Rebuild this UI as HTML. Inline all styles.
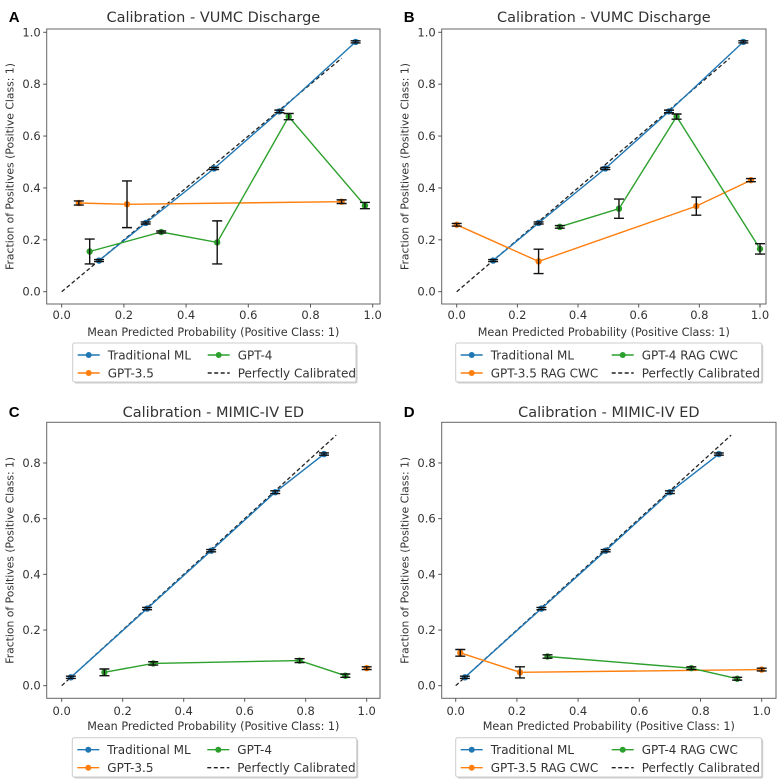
<!DOCTYPE html>
<html><head><meta charset="utf-8"><style>
body{margin:0;background:#fff;}
svg{display:block;font-family:"DejaVu Sans","Liberation Sans",sans-serif;}
</style></head><body>
<svg id="fig" width="780" height="782" viewBox="0 0 780 782" xmlns="http://www.w3.org/2000/svg"></svg>
<script>
// ---- data ----
const tmlA_x = [0.12, 0.27, 0.49, 0.70, 0.945];
const tmlA_y = [0.12, 0.265, 0.475, 0.695, 0.963];
const tmlA_e = [0.004, 0.004, 0.004, 0.005, 0.004];
const g35A_x = [0.055, 0.21, 0.90];
const g35A_y = [0.342, 0.337, 0.347];
const g35A_e = [0.008, 0.09, 0.007];
const g4A_x = [0.09, 0.32, 0.50, 0.73, 0.975];
const g4A_y = [0.155, 0.23, 0.19, 0.675, 0.332];
const g4A_e = [0.048, 0.004, 0.083, 0.012, 0.012];

const g35B_x = [0.0, 0.27, 0.79, 0.97];
const g35B_y = [0.258, 0.117, 0.33, 0.43];
const g35B_e = [0.005, 0.047, 0.035, 0.006];
const g4B_x = [0.34, 0.535, 0.725, 1.0];
const g4B_y = [0.25, 0.32, 0.675, 0.165];
const g4B_e = [0.005, 0.037, 0.01, 0.02];

const tmlC_x = [0.03, 0.28, 0.49, 0.70, 0.86];
const tmlC_y = [0.03, 0.277, 0.485, 0.695, 0.832];
const tmlC_e = [0.004, 0.004, 0.004, 0.005, 0.004];
const g35C_x = [1.0];
const g35C_y = [0.063];
const g35C_e = [0.005];
const g4C_x = [0.14, 0.30, 0.78, 0.93];
const g4C_y = [0.048, 0.08, 0.09, 0.036];
const g4C_e = [0.012, 0.006, 0.007, 0.006];

const g35D_x = [0.015, 0.21, 1.0];
const g35D_y = [0.118, 0.048, 0.058];
const g35D_e = [0.012, 0.02, 0.005];
const g4D_x = [0.30, 0.77, 0.92];
const g4D_y = [0.105, 0.063, 0.025];
const g4D_e = [0.006, 0.005, 0.005];

const xTicks = [0.0, 0.2, 0.4, 0.6, 0.8, 1.0];
const yTicksAB = [0.0, 0.2, 0.4, 0.6, 0.8, 1.0];
const yTicksCD = [0.0, 0.2, 0.4, 0.6, 0.8];
const perfect = [0, 0.9];

const BLUE="#1f77b4", ORANGE="#ff7f0e", GREEN="#2ca02c";
const NS="http://www.w3.org/2000/svg";
const svg=document.getElementById('fig');
function mk(tag, attrs, parent){const e=document.createElementNS(NS,tag);for(const k in attrs)e.setAttribute(k,attrs[k]);(parent||svg).appendChild(e);return e;}

const panels=[
 {letter:'A',title:'Calibration - VUMC Discharge',box:[46.7,29,380,304],x0:61.7,x1:372.7,y0:291.7,y1:32.3,yt:yTicksAB,
  series:[[tmlA_x,tmlA_y,tmlA_e,BLUE],[g35A_x,g35A_y,g35A_e,ORANGE],[g4A_x,g4A_y,g4A_e,GREEN]],
  leg:[72.7,343,356,382],c2:135,names:['Traditional ML','GPT-3.5','GPT-4'],ty:17,tky:315,xly:332},
 {letter:'B',title:'Calibration - VUMC Discharge',box:[441.7,29,766,304],x0:456.7,x1:760,y0:291.7,y1:32.3,yt:yTicksAB,
  series:[[tmlA_x,tmlA_y,tmlA_e,BLUE],[g35B_x,g35B_y,g35B_e,ORANGE],[g4B_x,g4B_y,g4B_e,GREEN]],
  leg:[455.7,343,761.7,382],c2:156,names:['Traditional ML','GPT-3.5 RAG CWC','GPT-4 RAG CWC'],ty:17,tky:315,xly:332},
 {letter:'C',title:'Calibration - MIMIC-IV ED',box:[46.7,422.3,380,698.3],x0:61.7,x1:366.7,y0:685.7,y1:685.7-278.4,yt:yTicksCD,
  series:[[tmlC_x,tmlC_y,tmlC_e,BLUE],[g35C_x,g35C_y,g35C_e,ORANGE],[g4C_x,g4C_y,g4C_e,GREEN]],
  leg:[72.3,737.7,356.7,777],c2:135,names:['Traditional ML','GPT-3.5','GPT-4'],ty:412,tky:711,xly:726},
 {letter:'D',title:'Calibration - MIMIC-IV ED',box:[441.7,422.3,776,698.3],x0:455.7,x1:761.7,y0:685.7,y1:685.7-278.4,yt:yTicksCD,
  series:[[tmlC_x,tmlC_y,tmlC_e,BLUE],[g35D_x,g35D_y,g35D_e,ORANGE],[g4D_x,g4D_y,g4D_e,GREEN]],
  leg:[455.7,737.7,761.7,777],c2:156,names:['Traditional ML','GPT-3.5 RAG CWC','GPT-4 RAG CWC'],ty:412,tky:711,xly:726}
];

panels.forEach(p=>{
  const g=mk('g',{});
  
  
  const sx=v=>p.x0+v*(p.x1-p.x0), sy=v=>p.y0+v*(p.y1-p.y0);
  const [bl,bt,br,bb]=p.box;
  const letter=mk('text',{x:bl-38,y:p.ty+5,'font-size':15,'font-weight':'bold','font-family':'Liberation Sans, sans-serif'},g);
  letter.textContent=p.letter;
  
  
  const t=mk('text',{x:(bl+br)/2,y:p.ty+5,'font-size':14.5,'text-anchor':'middle',fill:'#333'},g);
  t.textContent=p.title;
  
  
  const frame=mk('rect',{x:bl,y:bt,width:br-bl,height:bb-bt,fill:'none',stroke:'#666','stroke-width':1},g);
  
  
  xTicks.forEach(v=>{
    mk('line',{x1:sx(v),x2:sx(v),y1:bb,y2:bb+3.5,stroke:'#555'},g);
    const tx=mk('text',{x:sx(v),y:p.tky+4,'font-size':11.5,'text-anchor':'middle',fill:'#333'},g);
    tx.textContent=v.toFixed(1);
    
    
  });
  p.yt.forEach(v=>{
    mk('line',{x1:bl-3.5,x2:bl,y1:sy(v),y2:sy(v),stroke:'#555'},g);
    const ty=mk('text',{x:bl-6,y:sy(v)+4,'font-size':11.5,'text-anchor':'end',fill:'#333'},g);
    ty.textContent=v.toFixed(1);
    
    
  });
  const xl=mk('text',{x:(bl+br)/2,y:p.xly+4,'font-size':11.2,'text-anchor':'middle',fill:'#333'},g);
  xl.textContent='Mean Predicted Probability (Positive Class: 1)';
  
  
  const cy=(bt+bb)/2;
  const yl=mk('text',{x:bl-33,y:cy,'font-size':10.8,'text-anchor':'middle',fill:'#333',transform:`rotate(-90 ${bl-33} ${cy})`},g);
  yl.textContent='Fraction of Positives (Positive Class: 1)';
  
  
  const pl=mk('line',{x1:sx(perfect[0]),y1:sy(perfect[0]),x2:sx(perfect[1]),y2:sy(perfect[1]),stroke:'#222','stroke-width':1.3,'stroke-dasharray':'4,2.5'},g);
  
  
  p.series.forEach((s,si)=>{
    const [xs,ys,es,col]=s;
    const pts=xs.map((x,i)=>sx(x).toFixed(1)+','+sy(ys[i]).toFixed(1)).join(' ');
    const line=mk('polyline',{points:pts,fill:'none',stroke:col,'stroke-width':1.4},g);
    
    
    xs.forEach((x,i)=>{
      const c=mk('circle',{cx:sx(x),cy:sy(ys[i]),r:3.2,fill:col},g);
      
      
    });
  });
  p.series.forEach(s=>{
    const [xs,ys,es]=s;
    xs.forEach((x,i)=>{
      const X=sx(x),a=sy(ys[i]-es[i]),b=sy(ys[i]+es[i]);
      const eb=mk('path',{d:`M${X},${a}V${b}M${X-5},${a}H${X+5}M${X-5},${b}H${X+5}`,stroke:'#111','stroke-width':1.4,fill:'none'},g);
      
      
    });
  });
  const [ll,lt,lr,lb]=p.leg;
  const lg=mk('g',{},g);
  
  
  mk('rect',{x:ll+1.5,y:lt+1.5,width:lr-ll,height:lb-lt,fill:'#ccc',rx:2},lg);
  mk('rect',{x:ll,y:lt,width:lr-ll,height:lb-lt,fill:'#fff',stroke:'#ccc',rx:2},lg);
  const col2=ll+p.c2;
  const entries=[[ll+5,lt+12,BLUE,p.names[0],false],[ll+5,lt+30,ORANGE,p.names[1],false],[col2,lt+12,GREEN,p.names[2],false],[col2,lt+30,'#222','Perfectly Calibrated',true]];
  entries.forEach(en=>{
    const eg=mk('g',{},lg);
    
    
    const [x,y,c,name,dash]=en;
    mk('line',{x1:x,x2:x+22,y1:y,y2:y,stroke:c,'stroke-width':1.4,'stroke-dasharray':dash?'4,2.5':'none'},eg);
    if(!dash)mk('circle',{cx:x+11,cy:y,r:3,fill:c},eg);
    const tt=mk('text',{x:x+30,y:y+4.5,'font-size':12,fill:'#333'},eg);
    tt.textContent=name;
  });
});
</script>
</body></html>
